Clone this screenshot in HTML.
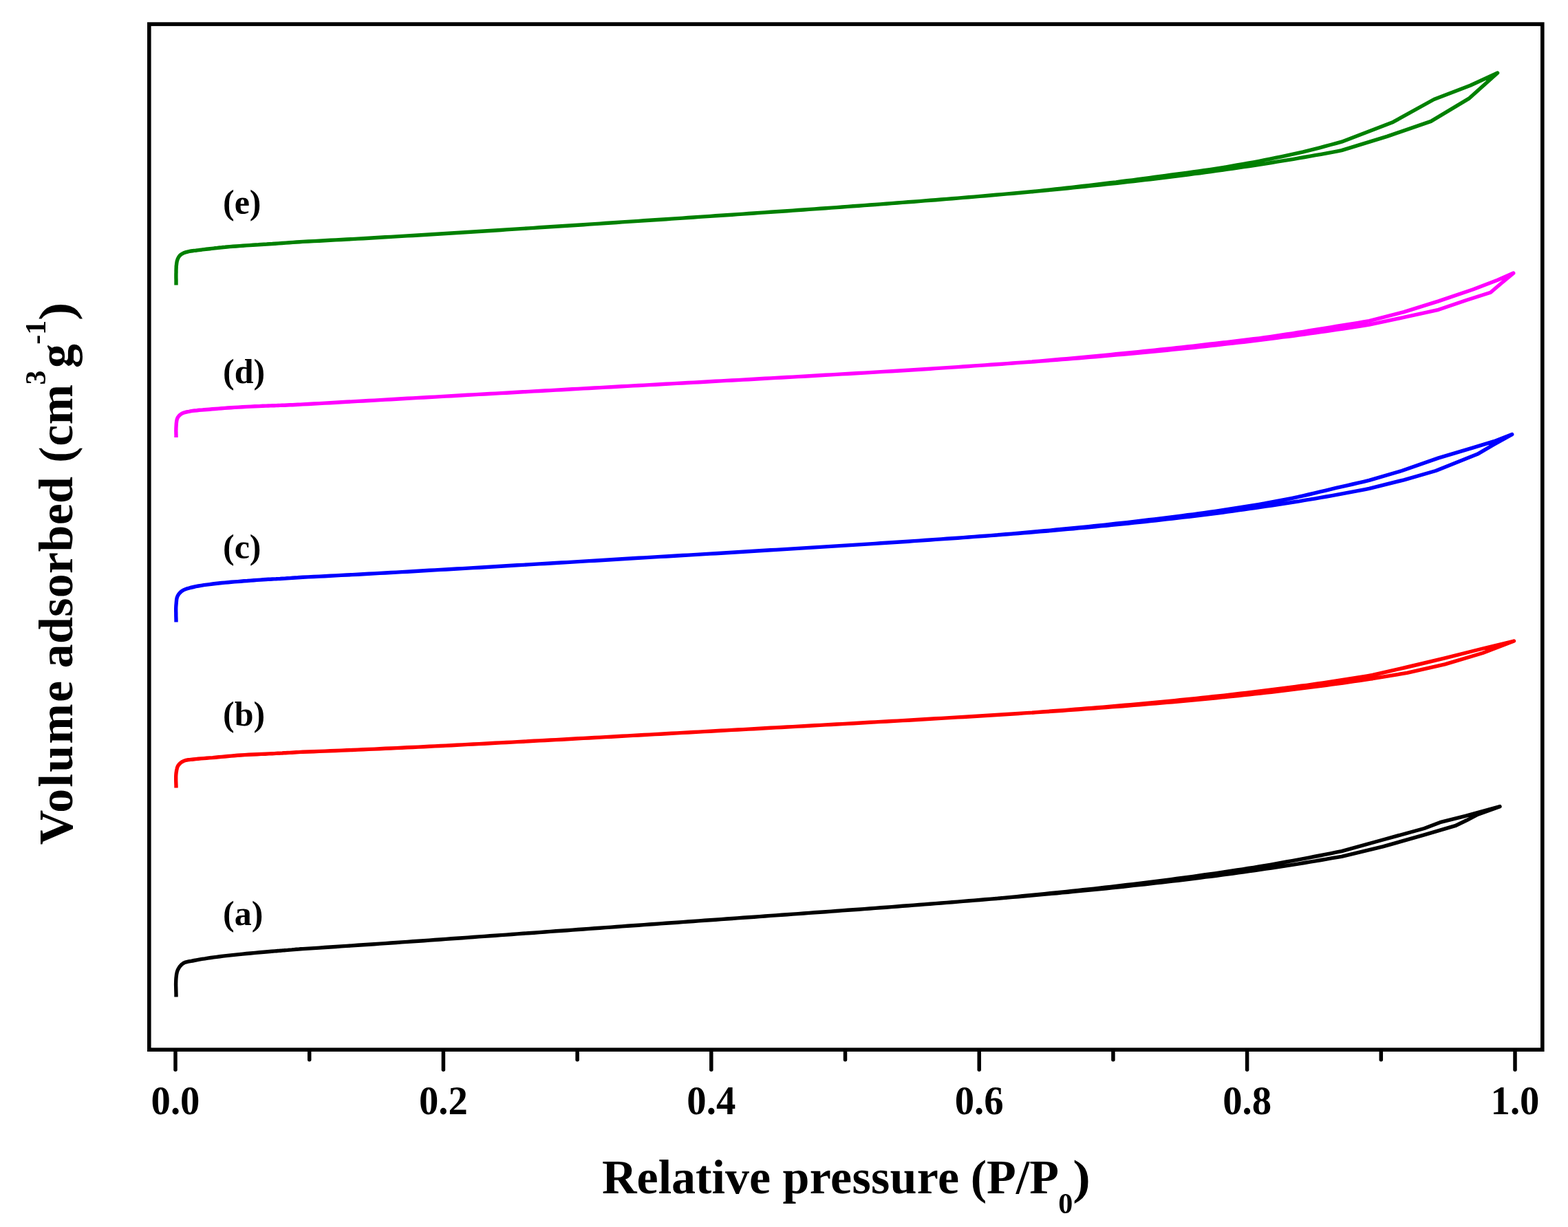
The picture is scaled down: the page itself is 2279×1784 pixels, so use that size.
<!DOCTYPE html>
<html><head><meta charset="utf-8"><title>Isotherms</title><style>
html,body{margin:0;padding:0;background:#fff;}
body{width:2279px;height:1784px;overflow:hidden;}
svg{display:block;}
text{font-family:"Liberation Serif","Times New Roman",serif;font-weight:bold;fill:#000;}
.t{font-size:60px;}
.l{font-size:50px;}
.xt{font-size:70px;}
.sub{font-size:42px;}
</style></head>
<body>
<svg xmlns="http://www.w3.org/2000/svg" width="2279" height="1784" viewBox="0 0 2279 1784"><rect width="100%" height="100%" fill="#fff"/><path d="M256.0,414.5 L256.0,411.9 L256.0,409.2 L256.0,406.5 L255.9,403.8 L255.9,401.2 L255.9,398.6 L256.0,396.2 L256.0,394.0 L256.0,392.6 L256.1,391.2 L256.1,389.9 L256.2,388.7 L256.2,387.5 L256.3,386.3 L256.5,385.2 L256.6,384.0 L256.7,383.0 L256.9,382.0 L257.0,381.0 L257.2,380.1 L257.4,379.2 L257.7,378.3 L258.0,377.4 L258.3,376.5 L258.7,375.7 L259.1,374.9 L259.5,374.1 L260.0,373.3 L260.6,372.5 L261.2,371.8 L261.8,371.1 L262.5,370.5 L263.4,369.8 L264.4,369.2 L265.4,368.6 L266.5,368.1 L267.7,367.6 L269.0,367.1 L270.3,366.7 L271.6,366.3 L273.5,365.8 L275.5,365.4 L277.7,365.0 L279.9,364.7 L282.2,364.4 L284.5,364.2 L286.9,363.9 L289.2,363.6 L291.7,363.3 L294.4,362.9 L297.0,362.6 L299.7,362.3 L302.4,362.0 L305.0,361.7 L307.7,361.4 L310.3,361.1 L312.8,360.8 L315.1,360.6 L317.5,360.3 L319.8,360.0 L322.2,359.8 L324.6,359.5 L327.2,359.3 L330.0,359.0 L334.1,358.6 L338.6,358.3 L343.3,358.0 L348.2,357.6 L353.1,357.3 L358.0,356.9 L362.9,356.6 L367.5,356.3 L371.7,356.0 L375.7,355.8 L379.7,355.5 L383.7,355.2 L387.7,355.0 L391.7,354.7 L395.8,354.5 L400.0,354.2 L404.9,353.9 L410.0,353.5 L415.3,353.1 L420.6,352.8 L425.8,352.4 L430.9,352.0 L435.6,351.7 L440.0,351.4 L448.0,351.0 L456.0,350.6 L464.0,350.2 L472.0,349.8 L480.0,349.3 L488.0,348.9 L496.0,348.5 L504.0,348.0 L512.0,347.6 L520.0,347.1 L528.0,346.7 L536.0,346.2 L544.0,345.8 L552.0,345.3 L560.0,344.8 L568.0,344.4 L576.0,343.9 L584.0,343.4 L592.0,342.9 L600.0,342.5 L608.0,342.0 L616.0,341.5 L624.0,341.0 L632.0,340.5 L640.0,340.0 L648.0,339.5 L656.0,339.0 L664.0,338.5 L672.0,338.0 L680.0,337.5 L688.0,337.0 L696.0,336.5 L704.0,336.0 L712.0,335.5 L720.0,335.0 L728.0,334.5 L736.0,333.9 L744.0,333.4 L752.0,332.9 L760.0,332.4 L768.0,331.9 L776.0,331.4 L784.0,330.8 L792.0,330.3 L800.0,329.8 L808.0,329.3 L816.0,328.8 L824.0,328.2 L832.0,327.7 L840.0,327.2 L848.0,326.7 L856.0,326.1 L864.0,325.6 L872.0,325.1 L880.0,324.5 L888.0,324.0 L896.0,323.5 L904.0,322.9 L912.0,322.4 L920.0,321.9 L928.0,321.4 L936.0,320.8 L944.0,320.3 L952.0,319.8 L960.0,319.2 L968.0,318.7 L976.0,318.1 L984.0,317.6 L992.0,317.1 L1000.0,316.5 L1008.0,316.0 L1016.0,315.4 L1024.0,314.9 L1032.0,314.4 L1040.0,313.8 L1048.0,313.3 L1056.0,312.7 L1064.0,312.2 L1072.0,311.6 L1080.0,311.1 L1088.0,310.5 L1096.0,310.0 L1104.0,309.4 L1112.0,308.9 L1120.0,308.3 L1128.0,307.8 L1136.0,307.2 L1144.0,306.7 L1152.0,306.1 L1160.0,305.5 L1168.0,305.0 L1176.0,304.4 L1184.0,303.9 L1192.0,303.3 L1200.0,302.7 L1208.0,302.1 L1216.0,301.6 L1224.0,301.0 L1232.0,300.4 L1240.0,299.8 L1248.0,299.2 L1256.0,298.6 L1264.0,298.0 L1272.0,297.5 L1280.0,296.9 L1288.0,296.3 L1296.0,295.6 L1304.0,295.0 L1312.0,294.4 L1320.0,293.8 L1328.0,293.2 L1336.0,292.6 L1344.0,291.9 L1352.0,291.3 L1360.0,290.7 L1368.0,290.0 L1376.0,289.4 L1384.0,288.7 L1392.0,288.1 L1400.0,287.4 L1408.0,286.8 L1416.0,286.1 L1424.0,285.4 L1432.0,284.7 L1440.0,284.0 L1448.0,283.3 L1456.0,282.6 L1464.0,281.9 L1472.0,281.2 L1480.0,280.5 L1488.0,279.8 L1496.0,279.0 L1504.0,278.3 L1512.0,277.6 L1520.0,276.8 L1528.0,276.0 L1536.0,275.3 L1544.0,274.5 L1552.0,273.7 L1560.0,272.9 L1568.0,272.1 L1576.0,271.3 L1584.0,270.4 L1592.0,269.6 L1600.0,268.8 L1608.0,267.9 L1616.0,267.0 L1624.0,266.2 L1632.0,265.3 L1640.0,264.4 L1648.0,263.5 L1656.0,262.6 L1664.0,261.6 L1672.0,260.7 L1680.0,259.7 L1688.0,258.8 L1696.0,257.8 L1704.0,256.8 L1712.0,255.8 L1720.0,254.8 L1728.0,253.8 L1736.0,252.7 L1744.0,251.7 L1752.0,250.6 L1760.0,249.5 L1768.0,248.4 L1776.0,247.3 L1784.0,246.1 L1792.0,245.0 L1800.0,243.8 L1808.0,242.7 L1816.0,241.5 L1824.0,240.3 L1832.0,239.0 L1840.0,237.8 L1848.0,236.5 L1856.0,235.2 L1864.0,233.9 L1872.0,232.6 L1880.0,231.3 L1888.0,229.9 L1896.0,228.5 L1904.0,227.1 L1912.0,225.7 L1920.0,224.3 L1928.0,222.8 L1936.0,221.4 L1944.0,219.9 L1950.0,218.7 L2016.0,198.4 L2079.8,176.4 L2134.8,143.4 L2176.6,106.0 L2176.6,106.0 L2137.0,124.3 L2084.2,144.5 L2024.8,177.4 L1950.0,206.2 L1942.0,208.4 L1934.0,210.5 L1926.0,212.7 L1918.0,214.8 L1910.0,216.9 L1902.0,218.9 L1894.0,220.9 L1886.0,222.7 L1878.0,224.4 L1870.0,226.1 L1862.0,227.8 L1854.0,229.4 L1846.0,231.1 L1838.0,232.7 L1830.0,234.3 L1822.0,235.8 L1814.0,237.2 L1806.0,238.6 L1798.0,240.0 L1790.0,241.4 L1782.0,242.8 L1774.0,244.1 L1766.0,245.4 L1758.0,246.6 L1750.0,247.7 L1742.0,248.9 L1734.0,250.0 L1726.0,251.1 L1718.0,252.1 L1710.0,253.2 L1702.0,254.2 L1694.0,255.3 L1686.0,256.4 L1678.0,257.5 L1670.0,258.6 L1662.0,259.7 L1654.0,260.7 L1646.0,261.8 L1638.0,262.8 L1630.0,263.8 L1622.0,264.9 L1614.0,265.8 L1606.0,266.8 L1598.0,267.8 L1590.0,268.7 L1582.0,269.6 L1574.0,270.5 L1566.0,271.5 L1558.0,272.4 L1550.0,273.3 L1542.0,274.2 L1534.0,275.0 L1526.0,275.9 L1518.0,276.8 L1510.0,277.6 L1502.0,278.5 L1500.0,278.7" fill="none" stroke="#008000" stroke-width="5.4" stroke-linejoin="round" stroke-linecap="butt"/><path d="M256.0,636.0 L256.0,634.1 L256.0,632.2 L255.9,630.3 L255.9,628.4 L255.8,626.5 L255.9,624.7 L255.9,622.8 L256.0,621.0 L256.1,619.3 L256.2,617.5 L256.3,615.8 L256.5,614.1 L256.7,612.4 L257.0,610.8 L257.4,609.3 L257.9,608.0 L258.4,607.0 L259.0,606.1 L259.7,605.2 L260.4,604.4 L261.1,603.6 L262.0,602.9 L262.8,602.2 L263.8,601.6 L265.1,600.9 L266.5,600.3 L268.0,599.8 L269.5,599.4 L271.2,599.0 L273.0,598.6 L274.8,598.3 L276.7,597.9 L279.6,597.4 L282.7,597.0 L286.1,596.7 L289.5,596.3 L293.1,596.1 L296.8,595.8 L300.5,595.5 L304.2,595.2 L308.5,594.8 L312.9,594.5 L317.4,594.1 L321.9,593.7 L326.5,593.4 L331.2,593.0 L336.0,592.7 L340.8,592.4 L346.4,592.1 L352.3,591.7 L358.3,591.4 L364.4,591.1 L370.4,590.8 L376.2,590.6 L381.7,590.3 L386.7,590.1 L390.0,590.0 L393.0,589.9 L395.9,589.8 L398.7,589.7 L401.4,589.6 L404.2,589.5 L407.0,589.4 L410.0,589.3 L413.6,589.2 L417.4,589.0 L421.2,588.8 L425.1,588.7 L429.0,588.5 L432.8,588.3 L436.5,588.1 L440.0,587.9 L448.0,587.5 L456.0,587.0 L464.0,586.6 L472.0,586.1 L480.0,585.7 L488.0,585.2 L496.0,584.8 L504.0,584.3 L512.0,583.9 L520.0,583.4 L528.0,583.0 L536.0,582.5 L544.0,582.1 L552.0,581.6 L560.0,581.1 L568.0,580.7 L576.0,580.2 L584.0,579.8 L592.0,579.3 L600.0,578.9 L608.0,578.4 L616.0,578.0 L624.0,577.5 L632.0,577.1 L640.0,576.6 L648.0,576.1 L656.0,575.7 L664.0,575.2 L672.0,574.8 L680.0,574.3 L688.0,573.9 L696.0,573.4 L704.0,573.0 L712.0,572.5 L720.0,572.1 L728.0,571.6 L736.0,571.2 L744.0,570.7 L752.0,570.3 L760.0,569.8 L768.0,569.4 L776.0,568.9 L784.0,568.5 L792.0,568.0 L800.0,567.6 L808.0,567.1 L816.0,566.7 L824.0,566.2 L832.0,565.8 L840.0,565.4 L848.0,564.9 L856.0,564.5 L864.0,564.0 L872.0,563.6 L880.0,563.1 L888.0,562.7 L896.0,562.3 L904.0,561.8 L912.0,561.4 L920.0,560.9 L928.0,560.5 L936.0,560.1 L944.0,559.6 L952.0,559.2 L960.0,558.7 L968.0,558.3 L976.0,557.9 L984.0,557.4 L992.0,557.0 L1000.0,556.5 L1008.0,556.1 L1016.0,555.7 L1024.0,555.2 L1032.0,554.8 L1040.0,554.3 L1048.0,553.9 L1056.0,553.4 L1064.0,553.0 L1072.0,552.6 L1080.0,552.1 L1088.0,551.7 L1096.0,551.2 L1104.0,550.8 L1112.0,550.3 L1120.0,549.9 L1128.0,549.4 L1136.0,549.0 L1144.0,548.5 L1152.0,548.1 L1160.0,547.6 L1168.0,547.2 L1176.0,546.7 L1184.0,546.3 L1192.0,545.8 L1200.0,545.3 L1208.0,544.9 L1216.0,544.4 L1224.0,543.9 L1232.0,543.5 L1240.0,543.0 L1248.0,542.5 L1256.0,542.1 L1264.0,541.6 L1272.0,541.1 L1280.0,540.6 L1288.0,540.1 L1296.0,539.7 L1304.0,539.2 L1312.0,538.7 L1320.0,538.2 L1328.0,537.7 L1336.0,537.2 L1344.0,536.7 L1352.0,536.2 L1360.0,535.6 L1368.0,535.1 L1376.0,534.6 L1384.0,534.1 L1392.0,533.6 L1400.0,533.0 L1408.0,532.5 L1416.0,531.9 L1424.0,531.4 L1432.0,530.9 L1440.0,530.3 L1448.0,529.7 L1456.0,529.2 L1464.0,528.6 L1472.0,528.0 L1480.0,527.4 L1488.0,526.9 L1496.0,526.3 L1504.0,525.7 L1512.0,525.1 L1520.0,524.5 L1528.0,523.8 L1536.0,523.2 L1544.0,522.6 L1552.0,522.0 L1560.0,521.3 L1568.0,520.7 L1576.0,520.0 L1584.0,519.4 L1592.0,518.7 L1600.0,518.0 L1608.0,517.3 L1616.0,516.6 L1624.0,515.9 L1632.0,515.2 L1640.0,514.5 L1648.0,513.8 L1656.0,513.0 L1664.0,512.3 L1672.0,511.5 L1680.0,510.8 L1688.0,510.0 L1696.0,509.2 L1704.0,508.4 L1712.0,507.6 L1720.0,506.8 L1728.0,506.0 L1736.0,505.2 L1744.0,504.3 L1752.0,503.5 L1760.0,502.6 L1768.0,501.7 L1776.0,500.8 L1784.0,499.9 L1792.0,499.0 L1800.0,498.1 L1808.0,497.2 L1816.0,496.2 L1824.0,495.2 L1832.0,494.3 L1840.0,493.3 L1848.0,492.3 L1856.0,491.3 L1864.0,490.2 L1872.0,489.2 L1880.0,488.2 L1888.0,487.1 L1896.0,486.0 L1904.0,484.9 L1912.0,483.8 L1920.0,482.7 L1928.0,481.5 L1936.0,480.4 L1944.0,479.2 L1952.0,478.0 L1960.0,476.8 L1968.0,475.6 L1976.0,474.3 L1984.0,473.1 L1990.0,472.1 L2040.4,461.4 L2090.8,450.3 L2131.2,436.5 L2166.4,425.3 L2181.6,412.2 L2199.7,397.1 L2199.7,397.1 L2176.5,407.2 L2141.2,420.8 L2090.8,437.9 L2040.4,453.6 L1990.0,466.6 L1982.0,468.0 L1974.0,469.3 L1966.0,470.6 L1958.0,471.9 L1950.0,473.2 L1942.0,474.5 L1934.0,475.8 L1926.0,477.1 L1918.0,478.4 L1910.0,479.7 L1902.0,481.0 L1894.0,482.3 L1886.0,483.5 L1878.0,484.8 L1870.0,486.0 L1862.0,487.2 L1854.0,488.4 L1846.0,489.6 L1838.0,490.7 L1830.0,491.8 L1822.0,492.8 L1814.0,493.7 L1806.0,494.7 L1798.0,495.7 L1790.0,496.6 L1782.0,497.6 L1774.0,498.5 L1766.0,499.4 L1758.0,500.3 L1750.0,501.3 L1742.0,502.2 L1734.0,503.1 L1726.0,504.0 L1718.0,504.9 L1710.0,505.7 L1702.0,506.6 L1694.0,507.5 L1686.0,508.3 L1678.0,509.1 L1670.0,510.0 L1662.0,510.8 L1654.0,511.6 L1646.0,512.4 L1638.0,513.2 L1630.0,514.0 L1622.0,514.8 L1614.0,515.6 L1606.0,516.4 L1598.0,517.1 L1590.0,517.9 L1582.0,518.6 L1574.0,519.4 L1566.0,520.1 L1558.0,520.9 L1550.0,521.6 L1542.0,522.3 L1534.0,523.0 L1526.0,523.7 L1518.0,524.4 L1510.0,525.1 L1502.0,525.8 L1500.0,526.0" fill="none" stroke="#ff00ff" stroke-width="5.4" stroke-linejoin="round" stroke-linecap="butt"/><path d="M256.0,904.5 L256.0,901.3 L255.9,898.0 L255.8,894.6 L255.8,891.3 L255.7,888.1 L255.7,884.9 L255.8,882.0 L256.0,879.2 L256.2,877.3 L256.3,875.6 L256.5,873.8 L256.6,872.2 L256.9,870.6 L257.2,869.1 L257.7,867.7 L258.3,866.3 L259.0,865.1 L259.7,864.0 L260.5,863.0 L261.4,862.0 L262.4,861.0 L263.4,860.1 L264.5,859.3 L265.7,858.5 L267.3,857.6 L268.9,856.9 L270.7,856.2 L272.6,855.6 L274.6,855.1 L276.7,854.5 L278.9,854.0 L281.2,853.5 L284.6,852.7 L288.3,852.0 L292.3,851.4 L296.4,850.7 L300.6,850.1 L304.8,849.6 L309.1,849.0 L313.3,848.5 L317.8,848.0 L322.3,847.5 L326.9,847.1 L331.5,846.7 L336.1,846.3 L340.8,845.9 L345.4,845.6 L350.0,845.2 L354.6,844.8 L359.4,844.5 L364.1,844.1 L368.9,843.7 L373.5,843.4 L378.1,843.1 L382.5,842.8 L386.7,842.5 L389.8,842.3 L392.8,842.2 L395.7,842.0 L398.5,841.9 L401.3,841.8 L404.1,841.6 L407.0,841.5 L410.0,841.3 L413.6,841.1 L417.4,840.8 L421.2,840.6 L425.1,840.3 L429.0,840.0 L432.8,839.8 L436.5,839.5 L440.0,839.3 L448.0,838.9 L456.0,838.5 L464.0,838.1 L472.0,837.7 L480.0,837.3 L488.0,836.9 L496.0,836.4 L504.0,836.0 L512.0,835.6 L520.0,835.2 L528.0,834.7 L536.0,834.3 L544.0,833.9 L552.0,833.4 L560.0,833.0 L568.0,832.5 L576.0,832.1 L584.0,831.6 L592.0,831.2 L600.0,830.7 L608.0,830.3 L616.0,829.8 L624.0,829.3 L632.0,828.9 L640.0,828.4 L648.0,828.0 L656.0,827.5 L664.0,827.0 L672.0,826.6 L680.0,826.1 L688.0,825.6 L696.0,825.2 L704.0,824.7 L712.0,824.2 L720.0,823.7 L728.0,823.3 L736.0,822.8 L744.0,822.3 L752.0,821.8 L760.0,821.4 L768.0,820.9 L776.0,820.4 L784.0,819.9 L792.0,819.5 L800.0,819.0 L808.0,818.5 L816.0,818.0 L824.0,817.6 L832.0,817.1 L840.0,816.6 L848.0,816.1 L856.0,815.6 L864.0,815.2 L872.0,814.7 L880.0,814.2 L888.0,813.7 L896.0,813.3 L904.0,812.8 L912.0,812.3 L920.0,811.8 L928.0,811.3 L936.0,810.9 L944.0,810.4 L952.0,809.9 L960.0,809.4 L968.0,809.0 L976.0,808.5 L984.0,808.0 L992.0,807.5 L1000.0,807.1 L1008.0,806.6 L1016.0,806.1 L1024.0,805.6 L1032.0,805.1 L1040.0,804.7 L1048.0,804.2 L1056.0,803.7 L1064.0,803.2 L1072.0,802.7 L1080.0,802.3 L1088.0,801.8 L1096.0,801.3 L1104.0,800.8 L1112.0,800.3 L1120.0,799.8 L1128.0,799.4 L1136.0,798.9 L1144.0,798.4 L1152.0,797.9 L1160.0,797.4 L1168.0,796.9 L1176.0,796.4 L1184.0,795.9 L1192.0,795.4 L1200.0,794.9 L1208.0,794.4 L1216.0,793.9 L1224.0,793.4 L1232.0,792.9 L1240.0,792.4 L1248.0,791.9 L1256.0,791.4 L1264.0,790.9 L1272.0,790.4 L1280.0,789.8 L1288.0,789.3 L1296.0,788.8 L1304.0,788.2 L1312.0,787.7 L1320.0,787.2 L1328.0,786.6 L1336.0,786.1 L1344.0,785.5 L1352.0,785.0 L1360.0,784.4 L1368.0,783.9 L1376.0,783.3 L1384.0,782.7 L1392.0,782.2 L1400.0,781.6 L1408.0,781.0 L1416.0,780.4 L1424.0,779.8 L1432.0,779.2 L1440.0,778.6 L1448.0,778.0 L1456.0,777.4 L1464.0,776.7 L1472.0,776.1 L1480.0,775.5 L1488.0,774.8 L1496.0,774.2 L1504.0,773.5 L1512.0,772.8 L1520.0,772.2 L1528.0,771.5 L1536.0,770.8 L1544.0,770.1 L1552.0,769.4 L1560.0,768.7 L1568.0,767.9 L1576.0,767.2 L1584.0,766.5 L1592.0,765.7 L1600.0,764.9 L1608.0,764.2 L1616.0,763.4 L1624.0,762.6 L1632.0,761.8 L1640.0,761.0 L1648.0,760.1 L1656.0,759.3 L1664.0,758.5 L1672.0,757.6 L1680.0,756.7 L1688.0,755.8 L1696.0,754.9 L1704.0,754.0 L1712.0,753.1 L1720.0,752.1 L1728.0,751.2 L1736.0,750.2 L1744.0,749.2 L1752.0,748.2 L1760.0,747.2 L1768.0,746.2 L1776.0,745.2 L1784.0,744.1 L1792.0,743.0 L1800.0,741.9 L1808.0,740.8 L1816.0,739.7 L1824.0,738.6 L1832.0,737.4 L1840.0,736.2 L1848.0,735.0 L1856.0,733.8 L1864.0,732.6 L1872.0,731.3 L1880.0,730.0 L1888.0,728.8 L1896.0,727.4 L1904.0,726.1 L1912.0,724.8 L1920.0,723.4 L1928.0,722.0 L1936.0,720.6 L1944.0,719.1 L1952.0,717.7 L1960.0,716.2 L1968.0,714.7 L1976.0,713.1 L1984.0,711.6 L1990.0,710.4 L2040.4,697.8 L2086.8,684.5 L2147.3,660.3 L2171.5,646.2 L2197.7,631.6 L2197.7,631.6 L2171.5,641.7 L2141.2,650.8 L2090.8,665.9 L2037.4,684.5 L1990.0,698.4 L1982.0,700.3 L1974.0,702.2 L1966.0,704.0 L1958.0,705.8 L1950.0,707.6 L1942.0,709.4 L1934.0,711.3 L1926.0,713.3 L1918.0,715.2 L1910.0,717.1 L1902.0,719.0 L1894.0,720.8 L1886.0,722.7 L1878.0,724.4 L1870.0,726.0 L1862.0,727.5 L1854.0,729.0 L1846.0,730.5 L1838.0,732.0 L1830.0,733.3 L1822.0,734.6 L1814.0,735.9 L1806.0,737.2 L1798.0,738.4 L1790.0,739.7 L1782.0,740.9 L1774.0,742.1 L1766.0,743.3 L1758.0,744.5 L1750.0,745.6 L1742.0,746.7 L1734.0,747.8 L1726.0,748.8 L1718.0,749.9 L1710.0,750.9 L1702.0,751.9 L1694.0,752.9 L1686.0,753.9 L1678.0,754.9 L1670.0,755.8 L1662.0,756.8 L1654.0,757.7 L1646.0,758.6 L1638.0,759.6 L1630.0,760.5 L1622.0,761.3 L1614.0,762.2 L1606.0,763.1 L1598.0,764.0 L1590.0,764.8 L1582.0,765.6 L1574.0,766.4 L1566.0,767.2 L1558.0,768.0 L1550.0,768.8 L1542.0,769.5 L1534.0,770.3 L1526.0,771.1 L1518.0,771.8 L1510.0,772.5 L1502.0,773.3 L1494.0,774.0 L1486.0,774.7 L1478.0,775.4 L1470.0,776.1 L1462.0,776.8 L1454.0,777.5 L1450.0,777.8" fill="none" stroke="#0000ff" stroke-width="5.4" stroke-linejoin="round" stroke-linecap="butt"/><path d="M256.0,1145.5 L256.0,1142.8 L255.9,1140.1 L255.8,1137.4 L255.7,1134.7 L255.7,1132.0 L255.7,1129.4 L255.8,1126.9 L256.0,1124.6 L256.2,1122.9 L256.5,1121.3 L256.7,1119.7 L257.1,1118.1 L257.4,1116.6 L257.9,1115.2 L258.5,1113.9 L259.2,1112.7 L260.0,1111.7 L260.8,1110.7 L261.8,1109.8 L262.8,1108.9 L263.9,1108.1 L265.1,1107.4 L266.3,1106.8 L267.5,1106.2 L269.0,1105.7 L270.5,1105.2 L272.1,1105.0 L273.7,1104.7 L275.4,1104.6 L277.3,1104.4 L279.2,1104.2 L281.2,1104.0 L284.5,1103.6 L288.2,1103.3 L292.2,1102.9 L296.3,1102.6 L300.5,1102.2 L304.8,1101.9 L309.1,1101.6 L313.3,1101.2 L317.7,1100.8 L322.2,1100.4 L326.7,1100.0 L331.2,1099.5 L335.8,1099.1 L340.5,1098.7 L345.2,1098.3 L350.0,1098.0 L355.6,1097.6 L361.5,1097.3 L367.7,1097.0 L373.8,1096.7 L379.8,1096.4 L385.6,1096.2 L391.0,1095.9 L395.8,1095.7 L398.6,1095.6 L401.1,1095.4 L403.5,1095.3 L405.8,1095.2 L408.0,1095.1 L410.2,1095.0 L412.5,1094.8 L415.0,1094.7 L418.0,1094.5 L421.1,1094.4 L424.3,1094.2 L427.5,1094.0 L430.7,1093.8 L433.9,1093.6 L437.0,1093.4 L440.0,1093.3 L448.0,1093.0 L456.0,1092.7 L464.0,1092.4 L472.0,1092.1 L480.0,1091.8 L488.0,1091.5 L496.0,1091.1 L504.0,1090.8 L512.0,1090.5 L520.0,1090.1 L528.0,1089.8 L536.0,1089.4 L544.0,1089.1 L552.0,1088.7 L560.0,1088.3 L568.0,1088.0 L576.0,1087.6 L584.0,1087.2 L592.0,1086.8 L600.0,1086.5 L608.0,1086.1 L616.0,1085.7 L624.0,1085.3 L632.0,1084.9 L640.0,1084.5 L648.0,1084.1 L656.0,1083.7 L664.0,1083.3 L672.0,1082.9 L680.0,1082.4 L688.0,1082.0 L696.0,1081.6 L704.0,1081.2 L712.0,1080.8 L720.0,1080.3 L728.0,1079.9 L736.0,1079.5 L744.0,1079.1 L752.0,1078.6 L760.0,1078.2 L768.0,1077.8 L776.0,1077.3 L784.0,1076.9 L792.0,1076.5 L800.0,1076.0 L808.0,1075.6 L816.0,1075.2 L824.0,1074.7 L832.0,1074.3 L840.0,1073.8 L848.0,1073.4 L856.0,1073.0 L864.0,1072.5 L872.0,1072.1 L880.0,1071.6 L888.0,1071.2 L896.0,1070.7 L904.0,1070.3 L912.0,1069.9 L920.0,1069.4 L928.0,1069.0 L936.0,1068.5 L944.0,1068.1 L952.0,1067.6 L960.0,1067.2 L968.0,1066.7 L976.0,1066.3 L984.0,1065.9 L992.0,1065.4 L1000.0,1065.0 L1008.0,1064.5 L1016.0,1064.1 L1024.0,1063.6 L1032.0,1063.2 L1040.0,1062.8 L1048.0,1062.3 L1056.0,1061.9 L1064.0,1061.4 L1072.0,1061.0 L1080.0,1060.6 L1088.0,1060.1 L1096.0,1059.7 L1104.0,1059.2 L1112.0,1058.8 L1120.0,1058.3 L1128.0,1057.9 L1136.0,1057.5 L1144.0,1057.0 L1152.0,1056.6 L1160.0,1056.1 L1168.0,1055.7 L1176.0,1055.3 L1184.0,1054.8 L1192.0,1054.4 L1200.0,1053.9 L1208.0,1053.5 L1216.0,1053.0 L1224.0,1052.6 L1232.0,1052.1 L1240.0,1051.7 L1248.0,1051.2 L1256.0,1050.8 L1264.0,1050.3 L1272.0,1049.9 L1280.0,1049.4 L1288.0,1049.0 L1296.0,1048.5 L1304.0,1048.1 L1312.0,1047.6 L1320.0,1047.2 L1328.0,1046.7 L1336.0,1046.2 L1344.0,1045.8 L1352.0,1045.3 L1360.0,1044.8 L1368.0,1044.4 L1376.0,1043.9 L1384.0,1043.4 L1392.0,1042.9 L1400.0,1042.5 L1408.0,1042.0 L1416.0,1041.5 L1424.0,1041.0 L1432.0,1040.5 L1440.0,1040.0 L1448.0,1039.5 L1456.0,1039.0 L1464.0,1038.5 L1472.0,1038.0 L1480.0,1037.5 L1488.0,1036.9 L1496.0,1036.4 L1504.0,1035.9 L1512.0,1035.4 L1520.0,1034.8 L1528.0,1034.3 L1536.0,1033.7 L1544.0,1033.2 L1552.0,1032.6 L1560.0,1032.1 L1568.0,1031.5 L1576.0,1030.9 L1584.0,1030.3 L1592.0,1029.7 L1600.0,1029.1 L1608.0,1028.5 L1616.0,1027.9 L1624.0,1027.3 L1632.0,1026.7 L1640.0,1026.0 L1648.0,1025.4 L1656.0,1024.8 L1664.0,1024.1 L1672.0,1023.4 L1680.0,1022.8 L1688.0,1022.1 L1696.0,1021.4 L1704.0,1020.7 L1712.0,1020.0 L1720.0,1019.3 L1728.0,1018.5 L1736.0,1017.8 L1744.0,1017.0 L1752.0,1016.3 L1760.0,1015.5 L1768.0,1014.7 L1776.0,1013.9 L1784.0,1013.1 L1792.0,1012.3 L1800.0,1011.5 L1808.0,1010.6 L1816.0,1009.8 L1824.0,1008.9 L1832.0,1008.0 L1840.0,1007.1 L1848.0,1006.2 L1856.0,1005.3 L1864.0,1004.3 L1872.0,1003.4 L1880.0,1002.4 L1888.0,1001.4 L1896.0,1000.4 L1904.0,999.4 L1912.0,998.4 L1920.0,997.3 L1928.0,996.3 L1936.0,995.2 L1944.0,994.1 L1952.0,993.0 L1960.0,991.8 L1968.0,990.7 L1976.0,989.5 L1984.0,988.3 L1992.0,987.1 L1995.0,986.7 L2045.0,978.3 L2100.0,965.8 L2155.0,949.5 L2200.5,932.0 L2200.5,932.0 L2155.0,943.0 L2100.0,956.8 L2045.0,970.0 L1995.0,981.5 L1987.0,982.8 L1979.0,984.1 L1971.0,985.4 L1963.0,986.7 L1955.0,988.0 L1947.0,989.2 L1939.0,990.5 L1931.0,991.7 L1923.0,992.9 L1915.0,994.0 L1907.0,995.2 L1899.0,996.3 L1891.0,997.3 L1883.0,998.4 L1875.0,999.5 L1867.0,1000.5 L1859.0,1001.5 L1851.0,1002.5 L1843.0,1003.5 L1835.0,1004.5 L1827.0,1005.5 L1819.0,1006.5 L1811.0,1007.4 L1803.0,1008.3 L1795.0,1009.3 L1787.0,1010.2 L1779.0,1011.1 L1771.0,1011.9 L1763.0,1012.8 L1755.0,1013.7 L1747.0,1014.5 L1739.0,1015.4 L1731.0,1016.2 L1723.0,1017.0 L1715.0,1017.8 L1707.0,1018.6 L1699.0,1019.4 L1691.0,1020.2 L1683.0,1021.0 L1675.0,1021.7 L1667.0,1022.5 L1659.0,1023.2 L1651.0,1023.9 L1643.0,1024.6 L1635.0,1025.3 L1627.0,1026.0 L1619.0,1026.7 L1611.0,1027.4 L1603.0,1028.1 L1595.0,1028.7 L1587.0,1029.4 L1579.0,1030.0 L1571.0,1030.7 L1563.0,1031.3 L1555.0,1031.9 L1547.0,1032.6 L1539.0,1033.2 L1531.0,1033.8 L1523.0,1034.4 L1515.0,1035.0 L1507.0,1035.6 L1500.0,1036.2" fill="none" stroke="#ff0000" stroke-width="5.4" stroke-linejoin="round" stroke-linecap="butt"/><path d="M256.0,1449.5 L256.0,1446.0 L255.9,1442.3 L255.8,1438.6 L255.7,1434.9 L255.6,1431.4 L255.7,1427.9 L255.8,1424.7 L256.0,1421.8 L256.2,1420.0 L256.4,1418.3 L256.6,1416.7 L256.9,1415.2 L257.2,1413.7 L257.6,1412.3 L258.1,1410.9 L258.7,1409.6 L259.4,1408.3 L260.1,1407.1 L260.9,1405.8 L261.8,1404.7 L262.8,1403.6 L263.8,1402.5 L265.0,1401.6 L266.2,1400.7 L267.8,1399.8 L269.5,1399.1 L271.4,1398.6 L273.4,1398.1 L275.4,1397.7 L277.6,1397.4 L279.9,1397.0 L282.2,1396.5 L285.7,1395.8 L289.5,1395.1 L293.5,1394.4 L297.7,1393.8 L301.9,1393.1 L306.3,1392.5 L310.6,1391.9 L314.9,1391.3 L319.4,1390.7 L324.0,1390.1 L328.6,1389.6 L333.2,1389.1 L337.9,1388.6 L342.7,1388.1 L347.5,1387.6 L352.4,1387.1 L358.2,1386.5 L364.3,1386.0 L370.7,1385.4 L377.1,1384.8 L383.3,1384.3 L389.2,1383.8 L394.6,1383.3 L399.3,1382.9 L401.6,1382.7 L403.7,1382.5 L405.6,1382.4 L407.4,1382.2 L409.2,1382.1 L411.0,1381.9 L412.9,1381.8 L415.0,1381.6 L417.9,1381.4 L420.9,1381.1 L424.1,1380.9 L427.3,1380.6 L430.6,1380.3 L433.8,1380.1 L437.0,1379.8 L440.0,1379.6 L448.0,1379.1 L456.0,1378.6 L464.0,1378.1 L472.0,1377.5 L480.0,1377.0 L488.0,1376.5 L496.0,1375.9 L504.0,1375.4 L512.0,1374.9 L520.0,1374.3 L528.0,1373.8 L536.0,1373.2 L544.0,1372.7 L552.0,1372.1 L560.0,1371.6 L568.0,1371.0 L576.0,1370.5 L584.0,1369.9 L592.0,1369.4 L600.0,1368.8 L608.0,1368.2 L616.0,1367.7 L624.0,1367.1 L632.0,1366.5 L640.0,1366.0 L648.0,1365.4 L656.0,1364.8 L664.0,1364.2 L672.0,1363.7 L680.0,1363.1 L688.0,1362.5 L696.0,1361.9 L704.0,1361.4 L712.0,1360.8 L720.0,1360.2 L728.0,1359.6 L736.0,1359.1 L744.0,1358.5 L752.0,1357.9 L760.0,1357.3 L768.0,1356.7 L776.0,1356.2 L784.0,1355.6 L792.0,1355.0 L800.0,1354.4 L808.0,1353.8 L816.0,1353.3 L824.0,1352.7 L832.0,1352.1 L840.0,1351.5 L848.0,1351.0 L856.0,1350.4 L864.0,1349.8 L872.0,1349.2 L880.0,1348.6 L888.0,1348.1 L896.0,1347.5 L904.0,1346.9 L912.0,1346.3 L920.0,1345.8 L928.0,1345.2 L936.0,1344.6 L944.0,1344.0 L952.0,1343.5 L960.0,1342.9 L968.0,1342.3 L976.0,1341.7 L984.0,1341.2 L992.0,1340.6 L1000.0,1340.0 L1008.0,1339.5 L1016.0,1338.9 L1024.0,1338.3 L1032.0,1337.7 L1040.0,1337.2 L1048.0,1336.6 L1056.0,1336.0 L1064.0,1335.5 L1072.0,1334.9 L1080.0,1334.3 L1088.0,1333.7 L1096.0,1333.2 L1104.0,1332.6 L1112.0,1332.0 L1120.0,1331.4 L1128.0,1330.9 L1136.0,1330.3 L1144.0,1329.7 L1152.0,1329.1 L1160.0,1328.6 L1168.0,1328.0 L1176.0,1327.4 L1184.0,1326.8 L1192.0,1326.3 L1200.0,1325.7 L1208.0,1325.1 L1216.0,1324.5 L1224.0,1323.9 L1232.0,1323.3 L1240.0,1322.7 L1248.0,1322.2 L1256.0,1321.6 L1264.0,1321.0 L1272.0,1320.4 L1280.0,1319.8 L1288.0,1319.2 L1296.0,1318.6 L1304.0,1318.0 L1312.0,1317.3 L1320.0,1316.7 L1328.0,1316.1 L1336.0,1315.5 L1344.0,1314.9 L1352.0,1314.3 L1360.0,1313.6 L1368.0,1313.0 L1376.0,1312.4 L1384.0,1311.7 L1392.0,1311.1 L1400.0,1310.4 L1408.0,1309.8 L1416.0,1309.1 L1424.0,1308.5 L1432.0,1307.8 L1440.0,1307.1 L1448.0,1306.5 L1456.0,1305.8 L1464.0,1305.1 L1472.0,1304.4 L1480.0,1303.7 L1488.0,1303.0 L1496.0,1302.3 L1504.0,1301.6 L1512.0,1300.9 L1520.0,1300.1 L1528.0,1299.4 L1536.0,1298.7 L1544.0,1297.9 L1552.0,1297.2 L1560.0,1296.4 L1568.0,1295.6 L1576.0,1294.9 L1584.0,1294.1 L1592.0,1293.3 L1600.0,1292.5 L1608.0,1291.7 L1616.0,1290.8 L1624.0,1290.0 L1632.0,1289.2 L1640.0,1288.3 L1648.0,1287.4 L1656.0,1286.6 L1664.0,1285.7 L1672.0,1284.8 L1680.0,1283.9 L1688.0,1283.0 L1696.0,1282.1 L1704.0,1281.1 L1712.0,1280.2 L1720.0,1279.2 L1728.0,1278.2 L1736.0,1277.3 L1744.0,1276.3 L1752.0,1275.2 L1760.0,1274.2 L1768.0,1273.2 L1776.0,1272.1 L1784.0,1271.1 L1792.0,1270.0 L1800.0,1268.9 L1808.0,1267.8 L1816.0,1266.6 L1824.0,1265.5 L1832.0,1264.3 L1840.0,1263.2 L1848.0,1262.0 L1856.0,1260.8 L1864.0,1259.6 L1872.0,1258.3 L1880.0,1257.1 L1888.0,1255.8 L1896.0,1254.5 L1904.0,1253.2 L1912.0,1251.8 L1920.0,1250.5 L1928.0,1249.1 L1936.0,1247.7 L1944.0,1246.3 L1950.0,1245.3 L2010.0,1230.9 L2070.0,1213.9 L2115.0,1200.7 L2131.5,1192.8 L2148.0,1184.2 L2180.0,1172.6 L2180.0,1172.6 L2130.0,1186.4 L2093.0,1195.7 L2070.0,1204.5 L2010.0,1221.0 L1950.0,1237.6 L1942.0,1239.2 L1934.0,1240.8 L1926.0,1242.4 L1918.0,1244.0 L1910.0,1245.5 L1902.0,1247.1 L1894.0,1248.6 L1886.0,1250.1 L1878.0,1251.6 L1870.0,1253.0 L1862.0,1254.5 L1854.0,1255.9 L1846.0,1257.3 L1838.0,1258.7 L1830.0,1260.0 L1822.0,1261.3 L1814.0,1262.5 L1806.0,1263.8 L1798.0,1265.0 L1790.0,1266.2 L1782.0,1267.4 L1774.0,1268.6 L1766.0,1269.8 L1758.0,1270.9 L1750.0,1272.0 L1742.0,1273.2 L1734.0,1274.3 L1726.0,1275.4 L1718.0,1276.5 L1710.0,1277.5 L1702.0,1278.6 L1694.0,1279.6 L1686.0,1280.6 L1678.0,1281.7 L1670.0,1282.7 L1662.0,1283.6 L1654.0,1284.6 L1646.0,1285.6 L1638.0,1286.5 L1630.0,1287.5 L1622.0,1288.4 L1614.0,1289.4 L1606.0,1290.3 L1598.0,1291.2 L1590.0,1292.1 L1582.0,1292.9 L1574.0,1293.8 L1566.0,1294.7 L1558.0,1295.5 L1550.0,1296.4 L1542.0,1297.2 L1534.0,1298.0 L1526.0,1298.8 L1518.0,1299.7 L1510.0,1300.5 L1502.0,1301.3 L1494.0,1302.0 L1486.0,1302.8 L1478.0,1303.6 L1470.0,1304.4 L1462.0,1305.2 L1454.0,1305.9 L1450.0,1306.3" fill="none" stroke="#000000" stroke-width="5.4" stroke-linejoin="round" stroke-linecap="butt"/><rect x="216.8" y="35.1" width="2025" height="1491.1" fill="none" stroke="#000" stroke-width="5.6"/><line x1="255.0" y1="1528" x2="255.0" y2="1555.3" stroke="#000" stroke-width="5.5" stroke-linecap="round"/><line x1="449.7" y1="1528" x2="449.7" y2="1540.8" stroke="#000" stroke-width="5.5" stroke-linecap="round"/><line x1="644.4" y1="1528" x2="644.4" y2="1555.3" stroke="#000" stroke-width="5.5" stroke-linecap="round"/><line x1="839.1" y1="1528" x2="839.1" y2="1540.8" stroke="#000" stroke-width="5.5" stroke-linecap="round"/><line x1="1033.8" y1="1528" x2="1033.8" y2="1555.3" stroke="#000" stroke-width="5.5" stroke-linecap="round"/><line x1="1228.5" y1="1528" x2="1228.5" y2="1540.8" stroke="#000" stroke-width="5.5" stroke-linecap="round"/><line x1="1423.2" y1="1528" x2="1423.2" y2="1555.3" stroke="#000" stroke-width="5.5" stroke-linecap="round"/><line x1="1617.9" y1="1528" x2="1617.9" y2="1540.8" stroke="#000" stroke-width="5.5" stroke-linecap="round"/><line x1="1812.6" y1="1528" x2="1812.6" y2="1555.3" stroke="#000" stroke-width="5.5" stroke-linecap="round"/><line x1="2007.3" y1="1528" x2="2007.3" y2="1540.8" stroke="#000" stroke-width="5.5" stroke-linecap="round"/><line x1="2202.0" y1="1528" x2="2202.0" y2="1555.3" stroke="#000" stroke-width="5.5" stroke-linecap="round"/><text x="255.0" y="1620.4" text-anchor="middle" class="t" textLength="70.9" lengthAdjust="spacingAndGlyphs">0.0</text><text x="644.4" y="1620.4" text-anchor="middle" class="t" textLength="70.9" lengthAdjust="spacingAndGlyphs">0.2</text><text x="1033.8" y="1620.4" text-anchor="middle" class="t" textLength="70.9" lengthAdjust="spacingAndGlyphs">0.4</text><text x="1423.2" y="1620.4" text-anchor="middle" class="t" textLength="70.9" lengthAdjust="spacingAndGlyphs">0.6</text><text x="1812.6" y="1620.4" text-anchor="middle" class="t" textLength="70.9" lengthAdjust="spacingAndGlyphs">0.8</text><text x="2202.0" y="1620.4" text-anchor="middle" class="t" textLength="70.9" lengthAdjust="spacingAndGlyphs">1.0</text><text x="324" y="311" class="l">(e)</text><text x="324" y="556.6" class="l">(d)</text><text x="324" y="812.2" class="l">(c)</text><text x="324" y="1055" class="l">(b)</text><text x="324" y="1345" class="l">(a)</text><text x="875.05" y="1735.3" class="xt">Relative</text><text x="1137.55" y="1735.3" class="xt" textLength="256.5">pressure</text><text x="1410.75" y="1735.3" class="xt">(P/P</text><text x="1538.2" y="1763.6" class="sub">0</text><text x="1559.2" y="1735.3" class="xt" textLength="25.6" lengthAdjust="spacingAndGlyphs">)</text><g transform="translate(105.3,1227.5) rotate(-90)"><text x="-0.7" y="0" class="xt" textLength="238.3">Volume</text><text x="256.1" y="0" class="xt" textLength="278.4">adsorbed</text><text x="554.85" y="0" class="xt" textLength="113.7">(cm</text><text x="667.9" y="-39.7" class="sub">3</text><text x="692.45" y="0" class="xt">g</text><text x="726.7" y="-39.7" class="sub">-1</text><text x="761.6" y="0" class="xt" textLength="26.5" lengthAdjust="spacingAndGlyphs">)</text></g></svg>
</body></html>
